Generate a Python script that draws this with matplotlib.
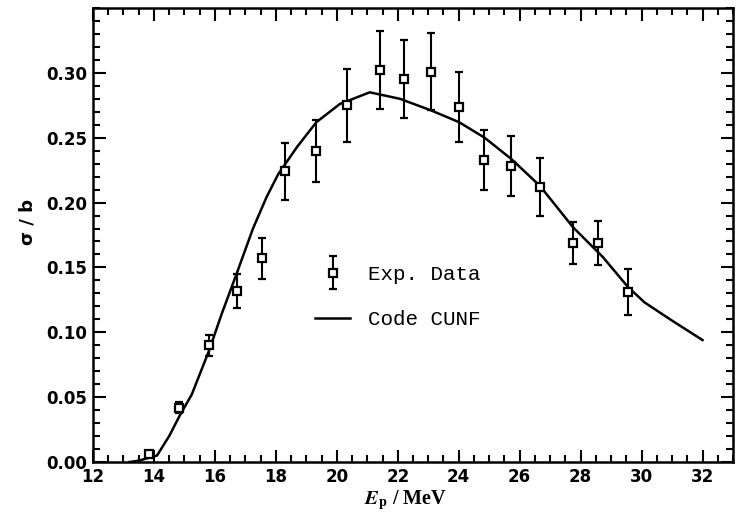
import matplotlib
matplotlib.use("Agg")
import matplotlib.pyplot as plt
from matplotlib.ticker import MultipleLocator, FormatStrFormatter
from matplotlib.container import ErrorbarContainer
from matplotlib.legend_handler import HandlerErrorbar

plt.rcParams['mathtext.fontset'] = 'stix'

# Experimental data
exp_x = [13.84, 14.82, 15.81, 16.71, 17.53, 18.30, 19.33, 20.32, 21.43, 22.22,
         23.10, 24.01, 24.82, 25.73, 26.66, 27.75, 28.57, 29.55]
exp_y = [0.006, 0.042, 0.090, 0.132, 0.157, 0.224, 0.240, 0.275, 0.302, 0.295,
         0.301, 0.274, 0.233, 0.228, 0.212, 0.169, 0.169, 0.131]
exp_err = [0.002, 0.004, 0.008, 0.013, 0.016, 0.022, 0.024, 0.028, 0.030, 0.030,
           0.030, 0.027, 0.023, 0.023, 0.022, 0.016, 0.017, 0.018]

# Code CUNF calculation
cunf_x = [13.2, 13.5, 13.8, 14.1, 14.5, 14.85, 15.24, 15.81, 16.22, 16.71, 17.25,
          17.69, 18.08, 18.7, 19.33, 20.10, 21.08, 22.07, 23.10, 24.01, 24.85,
          25.73, 26.66, 27.75, 28.73, 29.55, 30.1, 31.0, 32.0]
cunf_y = [0.0, 0.001, 0.003, 0.005, 0.020, 0.036, 0.052, 0.086, 0.114, 0.145, 0.180,
          0.204, 0.222, 0.243, 0.262, 0.276, 0.285, 0.280, 0.271, 0.262, 0.250,
          0.2335, 0.213, 0.181, 0.158, 0.135, 0.123, 0.109, 0.094]

x_ticks = [12, 14, 16, 18, 20, 22, 24, 26, 28, 30, 32]
y_ticks = [0.00, 0.05, 0.10, 0.15, 0.20, 0.25, 0.30]

fig = plt.figure(figsize=(7.37, 5.19), dpi=100)
ax = fig.add_axes([93/737, 57/519, 640/737, 454/519])

eb = ax.errorbar(exp_x, exp_y, yerr=exp_err, fmt='s', ms=5.5, mfc='white', mec='black',
                 mew=1.6, ecolor='black', elinewidth=1.5, capsize=3.2, capthick=1.5,
                 label='Exp. Data', zorder=3)
ln, = ax.plot(cunf_x, cunf_y, color='black', lw=1.8, label='Code CUNF', zorder=2)

ax.set_xlim(12, 33)
ax.set_ylim(0, 0.35)
ax.set_xticks(x_ticks)
ax.set_yticks(y_ticks)
ax.xaxis.set_minor_locator(MultipleLocator(0.5))
ax.yaxis.set_minor_locator(MultipleLocator(0.01))
ax.yaxis.set_major_formatter(FormatStrFormatter('%.2f'))
ax.tick_params(which='both', direction='in', top=True, right=True, width=1.5)
ax.tick_params(which='major', length=9)
ax.tick_params(which='minor', length=5)
ax.tick_params(axis='both', which='major', labelsize=12, pad=4)
for lab in ax.get_xticklabels() + ax.get_yticklabels():
    lab.set_fontweight('bold')
    lab.set_family('DejaVu Sans')
for s in ax.spines.values():
    s.set_linewidth(1.8)

ax.set_xlabel(r'$\boldsymbol{E}_{\mathbf{p}}$ / MeV', fontsize=14.5, fontweight='bold',
              family='Liberation Serif')
ax.xaxis.set_label_coords((405 - 93) / 640, (462 - 488) / 454)
ax.set_ylabel('σ / b', fontsize=13, fontweight='bold')
ax.yaxis.set_label_coords((37 - 93) / 640, (462 - 222) / 454)

leg = ax.legend([eb, ln], ['Exp. Data', 'Code CUNF'], loc='upper left',
                bbox_to_anchor=(315/737, 1 - 265/519),
                bbox_transform=fig.transFigure, frameon=False,
                prop={'family': 'Liberation Mono', 'size': 15},
                handlelength=1.7, handletextpad=0.85, labelspacing=1.25,
                borderpad=0, borderaxespad=0, numpoints=1,
                handler_map={ErrorbarContainer: HandlerErrorbar(yerr_size=0.8)})

fig.savefig('out.png', dpi=100)
